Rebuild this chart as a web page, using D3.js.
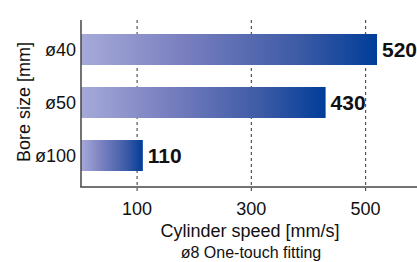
<!DOCTYPE html>
<html>
<head>
<meta charset="utf-8">
<script src="https://cdn.jsdelivr.net/npm/d3@7"></script>
<style>
	html, body { margin: 0; padding: 0; background: #fff; }
	svg { display: block; font-family: "Liberation Sans", Arial, sans-serif; }
</style>
</head>
<body>
<svg id="chart" width="417" height="262"></svg>
<script>
	var categories = ['ø40', 'ø50', 'ø100'];
	var speeds = [520, 430, 110];
	var tickValues = [100, 300, 500];

	var margin = {top: 20, left: 81};
	var axisBottom = 187;

	var svg = d3.select('#chart');

	var x = d3.scaleLinear().domain([0, 590]).range([80, 417]);
	var y = d3.scaleBand()
		.domain(categories)
		.range([23, 182])
		.paddingInner(0.415)
		.paddingOuter(0.2075);

	// gradient, light lavender to dark blue on each bar
	var grad = svg.append('defs').append('linearGradient')
		.attr('id', 'barGrad')
		.attr('x1', 0).attr('x2', 1).attr('y1', 0).attr('y2', 0);
	grad.append('stop').attr('offset', '0%').attr('stop-color', '#a6aad9');
	grad.append('stop').attr('offset', '34%').attr('stop-color', '#7a80c0');
	grad.append('stop').attr('offset', '74%').attr('stop-color', '#3c5aa5');
	grad.append('stop').attr('offset', '100%').attr('stop-color', '#003d99');

	// dashed grid lines
	svg.selectAll('.grid')
		.data(tickValues)
		.enter().append('line')
		.attr('class', 'grid')
		.attr('x1', function(d) { return x(d); })
		.attr('x2', function(d) { return x(d); })
		.attr('y1', margin.top)
		.attr('y2', axisBottom + 6)
		.attr('stroke', '#555')
		.attr('stroke-width', 1.2)
		.attr('stroke-dasharray', '3,3');

	// bars
	svg.selectAll('.bar')
		.data(speeds)
		.enter().append('rect')
		.attr('class', 'bar')
		.attr('x', x(0) + 1)
		.attr('y', function(d, i) { return y(categories[i]); })
		.attr('width', function(d) { return x(d) - x(0) - 1; })
		.attr('height', y.bandwidth())
		.attr('fill', 'url(#barGrad)');

	// value labels
	svg.selectAll('.val')
		.data(speeds)
		.enter().append('text')
		.attr('class', 'val')
		.attr('x', function(d) { return x(d) + 5; })
		.attr('y', function(d, i) { return y(categories[i]) + y.bandwidth() / 2; })
		.attr('dy', '0.36em')
		.attr('font-size', 21)
		.attr('font-weight', 'bold')
		.attr('fill', '#111')
		.text(function(d) { return d; });

	// axes lines
	svg.append('line')
		.attr('x1', margin.left).attr('x2', margin.left)
		.attr('y1', margin.top).attr('y2', axisBottom)
		.attr('stroke', '#444').attr('stroke-width', 1.5);
	svg.append('line')
		.attr('x1', margin.left - 0.75).attr('x2', 417)
		.attr('y1', axisBottom).attr('y2', axisBottom)
		.attr('stroke', '#444').attr('stroke-width', 1.5);

	// tick labels
	svg.selectAll('.xtick')
		.data(tickValues)
		.enter().append('text')
		.attr('class', 'xtick')
		.attr('x', function(d) { return x(d); })
		.attr('y', 215)
		.attr('text-anchor', 'middle')
		.attr('font-size', 18)
		.attr('fill', '#111')
		.text(function(d) { return d; });

	svg.selectAll('.ytick')
		.data(categories)
		.enter().append('text')
		.attr('class', 'ytick')
		.attr('x', 76)
		.attr('y', function(d) { return y(d) + y.bandwidth() / 2; })
		.attr('dy', '0.36em')
		.attr('text-anchor', 'end')
		.attr('font-size', 18)
		.attr('fill', '#111')
		.text(function(d) { return d; });

	// titles
	svg.append('text')
		.attr('x', 250).attr('y', 236.5)
		.attr('text-anchor', 'middle')
		.attr('font-size', 18)
		.attr('fill', '#111')
		.text('Cylinder speed [mm/s]');
	svg.append('text')
		.attr('x', 251).attr('y', 258)
		.attr('text-anchor', 'middle')
		.attr('font-size', 16)
		.attr('fill', '#111')
		.text('ø8 One-touch fitting');
	svg.append('text')
		.attr('transform', 'translate(30,102) rotate(-90)')
		.attr('text-anchor', 'middle')
		.attr('font-size', 18)
		.attr('fill', '#111')
		.text('Bore size [mm]');
</script>
</body>
</html>
